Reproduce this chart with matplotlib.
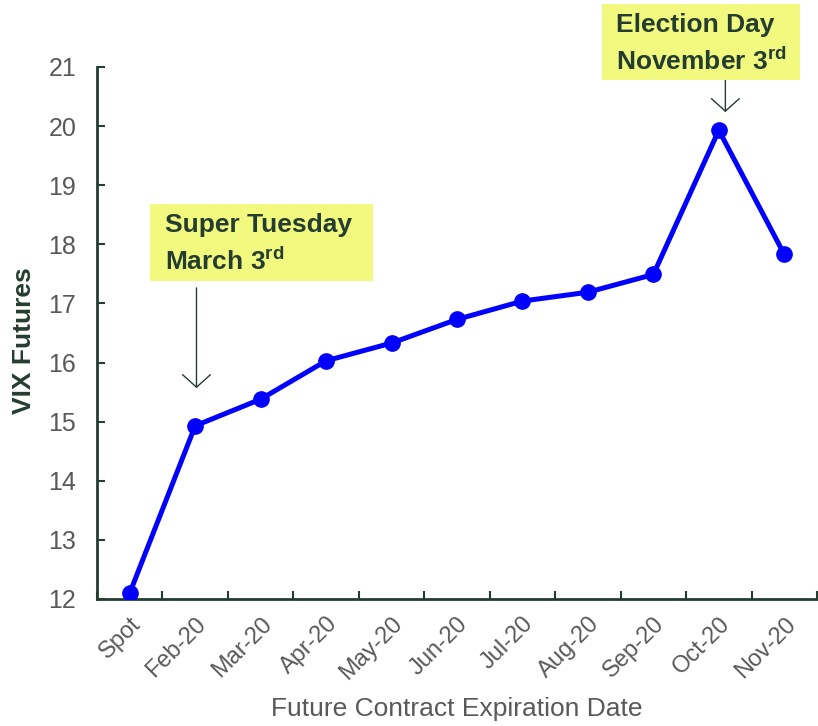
import matplotlib
matplotlib.use('Agg')
import matplotlib.pyplot as plt
from matplotlib.patches import Rectangle

plt.rcParams['font.family'] = ['Liberation Sans', 'DejaVu Sans']

# data
labels = ['Spot', 'Feb-20', 'Mar-20', 'Apr-20', 'May-20', 'Jun-20',
          'Jul-20', 'Aug-20', 'Sep-20', 'Oct-20', 'Nov-20']
vix = [12.1, 14.93, 15.38, 16.03, 16.33, 16.73, 17.04, 17.19, 17.49, 19.93, 17.83]
y_ticks = list(range(12, 22))

dark = '#243d30'
grey = '#595959'
blue = '#0000ff'
W, H = 818, 726

fig = plt.figure(figsize=(W/100, H/100), dpi=100)
ax = fig.add_axes([97/W, 1 - 599/H, 720/W, 532/H])

xs = list(range(len(labels)))
ax.plot(xs, vix, color=blue, lw=3.6, marker='o', ms=11, zorder=3)

ax.set_xlim(-0.5, len(labels) - 0.5)
ax.set_ylim(12, 21)
ax.set_yticks(y_ticks)
ax.set_xticks([i - 0.5 for i in range(len(labels) + 1)], minor=False)
ax.set_xticklabels([])
ax.set_xticks(xs, minor=True)
ax.set_xticklabels(labels, minor=True, rotation=45, ha='right', va='top',
                   rotation_mode='anchor', fontsize=17, color=grey)
ax.tick_params(axis='x', which='minor', length=0, pad=10)
ax.tick_params(axis='x', which='major', direction='in', length=6,
               width=1.5, color=dark)
ax.tick_params(axis='y', direction='in', length=6, width=1.5, color=dark,
               labelsize=18, labelcolor=grey, pad=15)

for s in ['top', 'right']:
    ax.spines[s].set_visible(False)
for s in ['left', 'bottom']:
    ax.spines[s].set_color(dark)
    ax.spines[s].set_linewidth(2)

ax.set_ylabel('VIX Futures', fontsize=19, fontweight='bold', color=dark)
ax.yaxis.set_label_coords((36 - 97)/720, 0.485)
ax.set_xlabel('Future Contract Expiration Date', fontsize=19, color=grey)
ax.xaxis.set_label_coords(0.5, (599 - 697)/532)

# call-out boxes (pixel layout)
fig.patches.append(Rectangle((150/W, 1 - 281/H), 223/W, 77/H, fc='#f2f97f',
                             ec='none', transform=fig.transFigure, figure=fig))
fig.patches.append(Rectangle((602/W, 1 - 80/H), 198/W, 76/H, fc='#f2f97f',
                             ec='none', transform=fig.transFigure, figure=fig))

arrow = dict(arrowstyle='->,head_length=0.9,head_width=1.0', color=dark, lw=1)

fig.text(165/W, 1 - 244/H, 'Super Tuesday\nMarch 3$^{\\mathregular{rd}}$',
         fontsize=19, fontweight='bold', color=dark, ha='left', va='center',
         linespacing=1.45)
ax.annotate('', xy=(1.02, 15.52), xytext=(1.02, 17.31),
            arrowprops=arrow, annotation_clip=False)

fig.text(616/W, 1 - 44/H, 'Election Day\nNovember 3$^{\\mathregular{rd}}$',
         fontsize=19, fontweight='bold', color=dark, ha='left', va='center',
         linespacing=1.45)
ax.annotate('', xy=(9.1, 20.19), xytext=(9.1, 21.08),
            arrowprops=arrow, annotation_clip=False)

fig.savefig('out.png', dpi=100)
